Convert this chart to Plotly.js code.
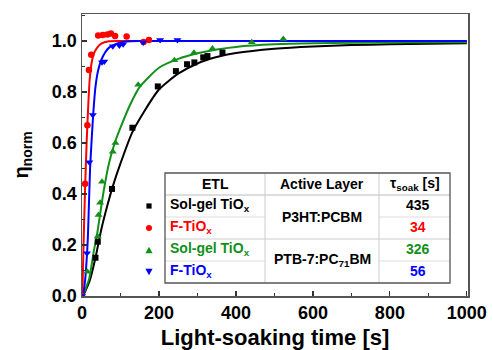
<!DOCTYPE html>
<html><head><meta charset="utf-8">
<script src="https://cdn.plot.ly/plotly-3.0.1.min.js"></script>
<style>body{margin:0;padding:0;background:#fff}#plot{width:493px;height:350px}</style>
</head><body><div id="plot"></div>
<script>
// ---- measured data points ----
const blackX = [0, 35, 41, 78, 131, 197, 244, 273, 292, 315, 326, 365];
const blackY = [0, 0.15, 0.213, 0.42, 0.66, 0.822, 0.882, 0.909, 0.916, 0.936, 0.941, 0.955];
const redX = [0, 8, 14, 18, 24, 42, 54, 66, 75, 86, 116, 160, 174];
const redY = [0, 0.44, 0.67, 0.886, 0.946, 1.022, 1.024, 1.026, 1.03, 1.02, 1.018, 0.996, 1.004];
const greenX = [0, 14, 41, 43, 47, 52, 80, 87, 146, 240, 291, 339, 441, 523];
const greenY = [0, 0.095, 0.233, 0.318, 0.366, 0.448, 0.566, 0.6, 0.829, 0.925, 0.954, 0.971, 0.995, 1.008];
const blueX = [0, 13, 19, 28, 52, 58, 80, 97, 107, 159, 203, 248];
const blueY = [0, 0.168, 0.525, 0.71, 0.917, 0.92, 0.98, 0.982, 0.987, 0.994, 1.004, 1.004];

// ---- fitted curves ----
const blackFitX = [3, 20, 35, 50, 65, 80, 100, 130, 160, 200, 250, 300, 350, 400, 500, 600, 700, 800, 900, 1000];
const blackFitY = [0, 0.06, 0.15, 0.26, 0.35, 0.43, 0.52, 0.64, 0.72, 0.81, 0.872, 0.912, 0.937, 0.953, 0.97, 0.979, 0.984, 0.987, 0.989, 0.991];
const greenFitX = [2, 19, 30, 40, 55, 70, 85, 100, 125, 150, 200, 250, 300, 350, 400, 500, 600, 800, 1000];
const greenFitY = [0, 0.07, 0.17, 0.25, 0.4, 0.52, 0.6, 0.66, 0.75, 0.82, 0.895, 0.93, 0.952, 0.967, 0.977, 0.987, 0.991, 0.994, 0.995];
const redFitX = [1, 4, 8, 12, 16, 20, 25, 32, 40, 50, 70, 100, 1000];
const redFitY = [0, 0.2, 0.42, 0.6, 0.74, 0.85, 0.915, 0.955, 0.975, 0.99, 0.999, 1, 1];
const blueFitX = [3, 8, 12, 15, 18, 21, 25, 29, 35, 42, 50, 60, 71, 90, 114, 150, 1000];
const blueFitY = [0, 0.06, 0.14, 0.22, 0.36, 0.5, 0.61, 0.71, 0.82, 0.885, 0.925, 0.955, 0.975, 0.99, 0.998, 1, 1];

// ---- table text ----
const etlLabels = ['Sol-gel TiO<sub>x</sub>', 'F-TiO<sub>x</sub>', 'Sol-gel TiO<sub>x</sub>', 'F-TiO<sub>x</sub>'];
const activeLayers = ['P3HT:PCBM', 'PTB-7:PC<sub>71</sub>BM'];
const tauValues = ['435', '34', '326', '56'];
const seriesColors = ['#000000', '#ff0000', '#12901a', '#0000ff'];
const xTickVals = [0, 200, 400, 600, 800, 1000];
const xTickText = ['0', '200', '400', '600', '800', '1000'];
const yTickVals = [0, 0.2, 0.4, 0.6, 0.8, 1.0];
const yTickText = ['0.0', '0.2', '0.4', '0.6', '0.8', '1.0'];

const FONT = 'Liberation Sans, Arial, sans-serif';
const L = 82, R = 468, T = 14, B = 296;
const px = X => (X - L) / (R - L);
const py = Y => (B - Y) / (B - T);
const bold = t => '<b>' + t + '</b>';

function fitTrace(x, y, c) {
  return {x, y, mode: 'lines', type: 'scatter', line: {color: c, width: 2, shape: 'spline', smoothing: 0.6}, hoverinfo: 'skip', showlegend: false};
}
function ptTrace(x, y, c, sym, sz) {
  return {x, y, mode: 'markers', type: 'scatter', marker: {color: c, symbol: sym, size: sz}, showlegend: false};
}
const traces = [
  fitTrace(blackFitX, blackFitY, seriesColors[0]),
  fitTrace(greenFitX, greenFitY, seriesColors[2]),
  fitTrace(redFitX, redFitY, seriesColors[1]),
  fitTrace(blueFitX, blueFitY, seriesColors[3]),
  ptTrace(blackX, blackY, seriesColors[0], 'square', 6),
  ptTrace(greenX, greenY, seriesColors[2], 'triangle-up', 7),
  ptTrace(redX, redY, seriesColors[1], 'circle', 6.5),
  ptTrace(blueX, blueY, seriesColors[3], 'triangle-down', 7)
];

// table geometry (pixels)
const tL = 165, tR = 450, tT = 173, tB = 283, c1 = 265, c2 = 379;
const rows = [195, 217, 239, 261];
const shapes = [];
function hline(x0, x1, y, col) {
  shapes.push({type: 'line', xref: 'paper', yref: 'paper', x0: px(x0), x1: px(x1), y0: py(y), y1: py(y), line: {color: col, width: 1}});
}
function vline(x, y0, y1, col) {
  shapes.push({type: 'line', xref: 'paper', yref: 'paper', x0: px(x), x1: px(x), y0: py(y0), y1: py(y1), line: {color: col, width: 1}});
}
hline(tL, tR, rows[0], '#bbbbbb');
hline(tL, tR, rows[2], '#cccccc');
hline(tL, c1, rows[1], '#dddddd'); hline(c2, tR, rows[1], '#dddddd');
hline(tL, c1, rows[3], '#dddddd'); hline(c2, tR, rows[3], '#dddddd');
vline(c1, tT, tB, '#cccccc'); vline(c2, tT, tB, '#cccccc');
shapes.push({type: 'rect', xref: 'paper', yref: 'paper', x0: px(tL), x1: px(tR), y0: py(tB), y1: py(tT), line: {color: '#555555', width: 1.3}});

// legend glyphs
const gx = 149, rowC = [206, 228, 250, 272];
const s = 2.6;
shapes.push({type: 'rect', xref: 'paper', yref: 'paper', x0: px(gx - s), x1: px(gx + s), y0: py(rowC[0] + s), y1: py(rowC[0] - s), fillcolor: seriesColors[0], line: {width: 0}});
shapes.push({type: 'circle', xref: 'paper', yref: 'paper', x0: px(gx - 3), x1: px(gx + 3), y0: py(rowC[1] + 3), y1: py(rowC[1] - 3), fillcolor: seriesColors[1], line: {width: 0}});
function tri(cx, cy, up, col) {
  const h = 3.2, w = 3.6;
  const pts = up ? [[cx - w, cy + h], [cx + w, cy + h], [cx, cy - h]] : [[cx - w, cy - h], [cx + w, cy - h], [cx, cy + h]];
  const p = 'M' + pts.map(q => px(q[0]) + ',' + py(q[1])).join(' L') + ' Z';
  shapes.push({type: 'path', xref: 'paper', yref: 'paper', path: p, fillcolor: col, line: {width: 0}});
}
tri(gx, rowC[2], true, seriesColors[2]);
tri(gx, rowC[3], false, seriesColors[3]);

const annotations = [];
function ann(text, X, Y, color, opts) {
  annotations.push(Object.assign({text: bold(text), xref: 'paper', yref: 'paper', x: px(X), y: py(Y), showarrow: false,
    xanchor: 'center', yanchor: 'middle', font: {family: FONT, size: 14, color: color}}, opts || {}));
}
ann('ETL', (tL + c1) / 2, 184, '#000');
ann('Active Layer', (c1 + c2) / 2, 184, '#000');
ann('τ<sub>soak</sub> [s]', (c2 + tR) / 2, 184, '#000');
etlLabels.forEach((t, i) => ann(t, 168, rowC[i] - 1, seriesColors[i], {xanchor: 'left'}));
ann(activeLayers[0], (c1 + c2) / 2, 217, '#000');
ann(activeLayers[1], (c1 + c2) / 2, 260, '#000');
tauValues.forEach((t, i) => ann(t, 418, rowC[i] - 1, seriesColors[i]));

const axisCommon = {
  showgrid: false, zeroline: false, showline: true, mirror: true, linecolor: '#555555', linewidth: 1.5,
  ticks: 'inside', ticklen: 5, tickwidth: 1.2, tickcolor: '#333',
  tickfont: {family: FONT, size: 18, color: '#000'}
};
const layout = {
  width: 493, height: 350,
  margin: {l: L, r: 493 - R, t: T, b: 350 - B},
  paper_bgcolor: '#fff', plot_bgcolor: '#fff',
  showlegend: false,
  xaxis: Object.assign({}, axisCommon, {
    range: [0, 1003], tickvals: xTickVals, ticktext: xTickText.map(bold),
    minor: {dtick: 100, ticks: 'inside', ticklen: 3, tickcolor: '#333', showgrid: false},
    title: {text: bold('Light-soaking time [s]'), font: {family: FONT, size: 22, color: '#000'}, standoff: 9}
  }),
  yaxis: Object.assign({}, axisCommon, {
    range: [0, 1.106], tickvals: yTickVals, ticktext: yTickText.map(bold),
    minor: {dtick: 0.1, ticks: 'inside', ticklen: 3, tickcolor: '#333', showgrid: false},
    title: {text: bold('η<sub>norm</sub>'), font: {family: FONT, size: 20, color: '#000'}, standoff: 18}
  }),
  shapes, annotations
};
Plotly.newPlot('plot', traces, layout, {displayModeBar: false, staticPlot: true});
</script></body></html>
